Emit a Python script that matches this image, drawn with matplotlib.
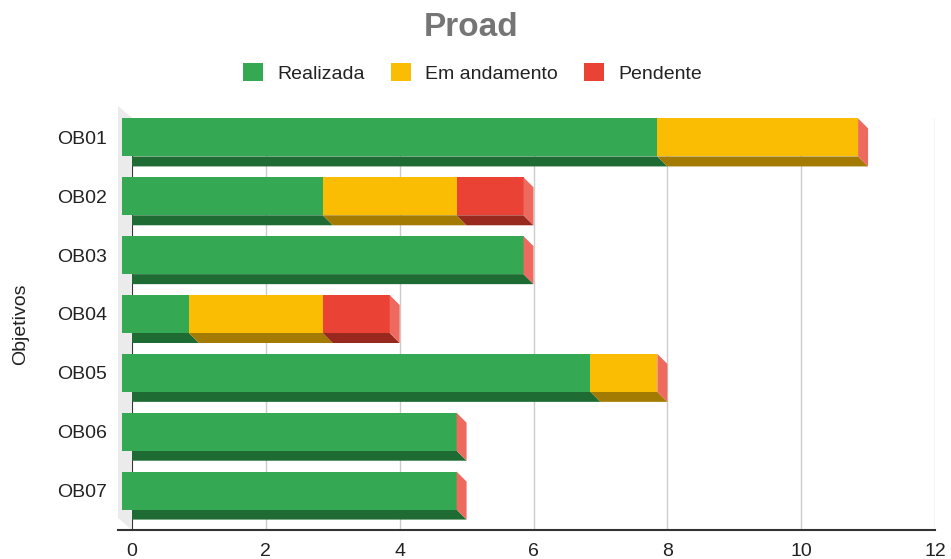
import numpy as np
import matplotlib.pyplot as plt
from matplotlib.patches import Polygon, Patch

# dados do gráfico
objetivos = ['OB01', 'OB02', 'OB03', 'OB04', 'OB05', 'OB06', 'OB07']
realizada = [8, 3, 6, 1, 7, 5, 5]
em_andamento = [3, 2, 0, 2, 1, 0, 0]
pendente = [0, 1, 0, 1, 0, 0, 0]
series = ['Realizada', 'Em andamento', 'Pendente']

# cores: frente, fundo (escuro)
front = ['#34a853', '#fbbc04', '#ea4335']
dark = ['#1e6b33', '#a37a02', '#99281f']
side = '#ee6a5e'

plt.rcParams['font.family'] = ['Liberation Sans', 'DejaVu Sans']

fig = plt.figure(figsize=(9.51, 5.59), dpi=100)
W, H = 951, 559
ax = fig.add_axes([132 / W, 29 / H, 803 / W, 412 / H])
ax.set_xlim(0, 12)
ax.set_ylim(len(objetivos) - 0.5, -0.5)

# deslocamento 3D (10 px) em unidades de dados
px_x = 803 / 12
px_y = 412 / len(objetivos)
dx = 10 / px_x
dy = 10 / px_y
h = 38 / px_y

# parede lateral cinza
y_top, y_bot = -0.5, len(objetivos) - 0.5
ax.add_patch(Polygon([(0, y_top), (0, y_bot), (-dx * 1.4, y_bot - dy * 1.2), (-dx * 1.4, y_top - dy * 1.2)],
                     closed=True, facecolor='#ebebeb', edgecolor='none', clip_on=False, zorder=0))

# grade
ax.vlines(np.arange(2, 13, 2), y_top, y_bot, color='#cccccc', lw=1, zorder=1)
ax.vlines(0, y_top, y_bot, color='#333333', lw=1.5, zorder=1)
ax.plot([-dx * 1.4, 12], [y_bot, y_bot], color='#333333', lw=1.5, clip_on=False, zorder=1)

data = np.array([realizada, em_andamento, pendente], dtype=float)
for i in range(len(objetivos)):
    left = 0.0
    for s in range(3):
        w = data[s, i]
        right = left + w
        yb = i + h / 2
        yt = i - h / 2
        if w > 0:
            # face inferior
            ax.add_patch(Polygon([(left - dx, yb - dy), (right - dx, yb - dy), (right, yb), (left, yb)],
                                 closed=True, facecolor=dark[s], edgecolor='none', zorder=2))
            # face frontal
            ax.add_patch(Polygon([(left - dx, yt - dy), (right - dx, yt - dy), (right - dx, yb - dy), (left - dx, yb - dy)],
                                 closed=True, facecolor=front[s], edgecolor='none', zorder=3, clip_on=False))
        left = right
    # face lateral no fim da pilha
    ax.add_patch(Polygon([(left - dx, yt - dy), (left, yt), (left, yb), (left - dx, yb - dy)],
                         closed=True, facecolor=side, edgecolor='none', zorder=3))

for sp in ax.spines.values():
    sp.set_visible(False)

ax.set_xticks(np.arange(0, 13, 2))
ax.set_yticks(np.arange(len(objetivos)) - dy)
ax.set_yticklabels(objetivos)
ax.tick_params(axis='x', length=0, pad=9, labelsize=14, labelcolor='#222222')
ax.tick_params(axis='y', length=0, pad=18, labelsize=14, labelcolor='#222222')
ax.set_ylabel('Objetivos', fontsize=14, color='#222222', labelpad=20)

fig.suptitle('Proad', x=0.495, y=0.978, fontsize=24, fontweight='bold', color='#757575')

handles = [Patch(facecolor=c, edgecolor='none') for c in front]
fig.legend(handles, series, loc='center', bbox_to_anchor=(0.497, 1 - 73 / H), ncol=3, frameon=False,
           fontsize=14, handlelength=1.0, handleheight=1.0, handletextpad=0.75, columnspacing=1.35,
           labelcolor='#222222')

fig.savefig('out.png', dpi=100)
